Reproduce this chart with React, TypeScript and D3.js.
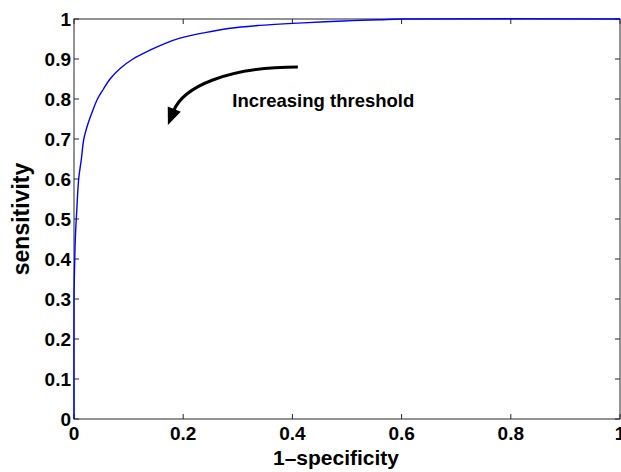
import React, { useRef, useEffect } from "react";
import * as d3 from "d3";

const fontFamily = "'Liberation Sans', Arial, Helvetica, sans-serif";

// ROC curve
const fpr = [0, 0, 0.0006, 0.0024, 0.005, 0.0086, 0.0135, 0.018, 0.026, 0.034, 0.043, 0.054, 0.066, 0.085, 0.108, 0.139, 0.165, 0.194, 0.24, 0.286, 0.34, 0.4, 0.46, 0.51, 0.56, 0.6, 1];
const tpr = [0, 0.3, 0.35, 0.45, 0.52, 0.6, 0.65, 0.7, 0.74, 0.77, 0.8, 0.825, 0.85, 0.877, 0.9, 0.922, 0.938, 0.952, 0.966, 0.977, 0.984, 0.989, 0.993, 0.996, 0.998, 1, 1];

const xTicks = [0, 0.2, 0.4, 0.6, 0.8, 1];
const yTicks = [0, 0.1, 0.2, 0.3, 0.4, 0.5, 0.6, 0.7, 0.8, 0.9, 1];

export default function App() {
  const ref = useRef<SVGSVGElement>(null);
  const width = 621;
  const height = 472;

  useEffect(() => {
    document.body.style.margin = "0";
    const margin = { top: 19, right: 1, bottom: 53, left: 74 };
    const w = width - margin.left - margin.right;
    const h = height - margin.top - margin.bottom;

    const svg = d3.select(ref.current);
    svg.selectAll("*").remove();
    svg.style("background", "#fff").style("font-family", fontFamily);

    const x = d3.scaleLinear().domain([0, 1]).range([margin.left, margin.left + w]);
    const y = d3.scaleLinear().domain([0, 1]).range([margin.top + h, margin.top]);

    const axisColor = "#262626";

    // ticks, inward on all four sides
    const tickLen = 5;
    const g = svg.append("g").attr("stroke", axisColor).attr("stroke-width", 1);
    xTicks.forEach(t => {
      g.append("line").attr("x1", x(t)).attr("x2", x(t)).attr("y1", y(0)).attr("y2", y(0) - tickLen);
      g.append("line").attr("x1", x(t)).attr("x2", x(t)).attr("y1", y(1)).attr("y2", y(1) + tickLen);
    });
    yTicks.forEach(t => {
      g.append("line").attr("x1", x(0)).attr("x2", x(0) + tickLen).attr("y1", y(t)).attr("y2", y(t));
      g.append("line").attr("x1", x(1)).attr("x2", x(1) - tickLen).attr("y1", y(t)).attr("y2", y(t));
    });

    // box
    svg.append("rect")
      .attr("x", x(0))
      .attr("y", y(1))
      .attr("width", x(1) - x(0))
      .attr("height", y(0) - y(1))
      .attr("fill", "none")
      .attr("stroke", axisColor)
      .attr("stroke-width", 1);

    // tick labels
    svg.append("g")
      .selectAll("text")
      .data(xTicks)
      .join("text")
      .attr("x", d => x(d))
      .attr("y", y(0) + 21)
      .attr("text-anchor", "middle")
      .attr("font-size", 19)
      .attr("font-weight", "bold")
      .attr("fill", "#000")
      .text(d => d3.format("")(d));

    svg.append("g")
      .selectAll("text")
      .data(yTicks)
      .join("text")
      .attr("x", x(0) - 3)
      .attr("y", d => y(d) + 6.5)
      .attr("text-anchor", "end")
      .attr("font-size", 19)
      .attr("font-weight", "bold")
      .attr("fill", "#000")
      .text(d => d3.format("")(d));

    // axis titles
    svg.append("text")
      .attr("x", 336)
      .attr("y", 465)
      .attr("text-anchor", "middle")
      .attr("font-size", 21)
      .attr("font-weight", "bold")
      .attr("fill", "#000")
      .text("1\u2013specificity");

    svg.append("text")
      .attr("transform", `translate(29,${(y(0) + y(1)) / 2}) rotate(-90)`)
      .attr("text-anchor", "middle")
      .attr("font-size", 23)
      .attr("font-weight", "bold")
      .attr("fill", "#000")
      .text("sensitivity");

    // ROC curve
    const pts = fpr.map((f, i) => [f, tpr[i]] as [number, number]);
    const line = d3.line<[number, number]>()
      .x(d => x(d[0]))
      .y(d => y(d[1]))
      .curve(d3.curveCatmullRom.alpha(0.5));
    svg.append("path")
      .attr("d", line(pts))
      .attr("fill", "none")
      .attr("stroke", "#0000ff")
      .attr("stroke-width", 1.4);

    // annotation arrow
    const start: [number, number] = [x(0.41), y(0.88)];
    const c1: [number, number] = [x(0.28), y(0.88)];
    const c2: [number, number] = [x(0.2), y(0.83)];
    const tip: [number, number] = [x(0.172), y(0.735)];
    const dx = tip[0] - c2[0];
    const dy = tip[1] - c2[1];
    const len = Math.hypot(dx, dy);
    const ux = dx / len;
    const uy = dy / len;
    const headLen = 17;
    const headW = 7;
    const base: [number, number] = [tip[0] - ux * headLen, tip[1] - uy * headLen];
    const path = d3.path();
    path.moveTo(start[0], start[1]);
    path.bezierCurveTo(c1[0], c1[1], c2[0], c2[1], base[0] + ux * 2, base[1] + uy * 2);
    svg.append("path")
      .attr("d", path.toString())
      .attr("fill", "none")
      .attr("stroke", "#000")
      .attr("stroke-width", 3);
    svg.append("path")
      .attr("d", `M${tip[0]},${tip[1]}L${base[0] - uy * headW},${base[1] + ux * headW}L${base[0] + uy * headW},${base[1] - ux * headW}Z`)
      .attr("fill", "#000");

    svg.append("text")
      .attr("x", x(0.29))
      .attr("y", y(0.78))
      .attr("font-size", 18.5)
      .attr("font-weight", "bold")
      .attr("fill", "#000")
      .text("Increasing threshold");
  }, []);

  return <svg ref={ref} width={width} height={height} style={{ display: "block" }}></svg>;
}
